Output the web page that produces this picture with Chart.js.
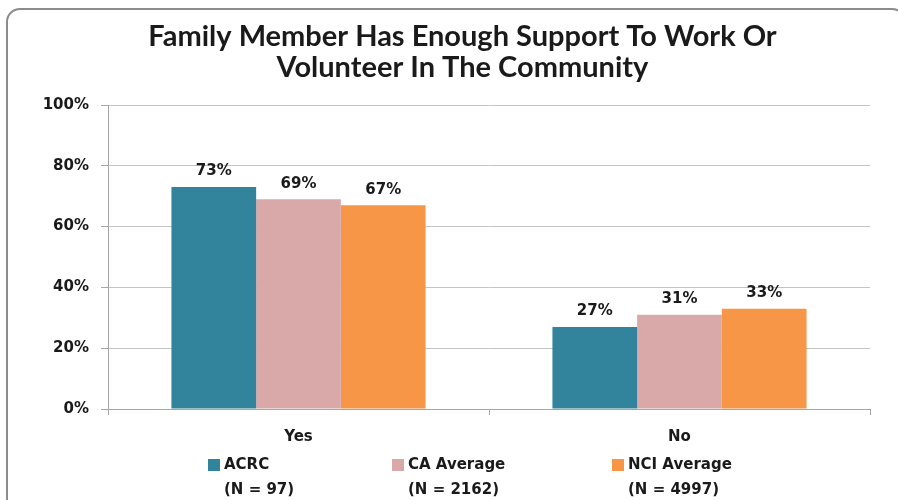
<!DOCTYPE html>
<html>
<head>
<meta charset="utf-8">
<script src="https://cdn.jsdelivr.net/npm/chart.js@4.4.1/dist/chart.umd.min.js"></script>
<style>
  html, body { margin: 0; padding: 0; background: #fff; }
  #wrap { position: relative; width: 898px; height: 500px; overflow: hidden; }
  #frame {
    position: absolute; left: 6px; top: 8px; width: 900px; height: 520px;
    border: 2px solid #8c8c8c; border-radius: 14px; box-sizing: border-box;
  }
  canvas { position: absolute; left: 0; top: 0; }
</style>
</head>
<body>
<div id="wrap">
  <div id="frame"></div>
  <canvas id="chart" width="898" height="500"></canvas>
</div>
<script>
const categories = ['Yes', 'No'];
const seriesNames = [['ACRC', '(N = 97)'], ['CA Average', '(N = 2162)'], ['NCI Average', '(N = 4997)']];
const acrcValues = [73, 27];
const caValues = [69, 31];
const nciValues = [67, 33];
const yTicks = [0, 20, 40, 60, 80, 100];
const seriesColors = ['#31849b', '#d9a8a8', '#f79646'];
const titleLines = ['Family Member Has Enough Support To Work Or', 'Volunteer In The Community'];

// title is centred a bit right of the canvas middle, as in the original
const topTitle = {
  id: 'topTitle',
  afterDraw(chart) {
    const ctx = chart.ctx;
    ctx.save();
    ctx.font = 'bold 29px Lato';
    ctx.fillStyle = '#1a1a1a';
    ctx.textAlign = 'center';
    ctx.textBaseline = 'middle';
    const cx = chart.width * 0.515;
    titleLines.forEach((line, i) => ctx.fillText(line, cx, 37 + i * 31));
    ctx.restore();
  }
};

// value labels over bars
const barLabels = {
  id: 'barLabels',
  afterDatasetsDraw(chart) {
    const ctx = chart.ctx;
    ctx.save();
    ctx.font = 'bold 15px "DejaVu Sans"';
    ctx.fillStyle = '#1a1a1a';
    ctx.textAlign = 'center';
    ctx.textBaseline = 'bottom';
    chart.data.datasets.forEach((ds, i) => {
      chart.getDatasetMeta(i).data.forEach((bar, j) => {
        ctx.fillText(ds.data[j] + '%', bar.x, bar.y - 8);
      });
    });
    ctx.restore();
  }
};

// two-line legend under the axis (item left edges as fractions of the width)
const legendSlots = [0.232, 0.437, 0.681];
const bottomLegend = {
  id: 'bottomLegend',
  afterDraw(chart) {
    const ctx = chart.ctx;
    ctx.save();
    ctx.font = 'bold 15px "DejaVu Sans"';
    const box = 12, boxGap = 4;
    const y1 = 465, y2 = 490;
    ctx.textBaseline = 'middle';
    ctx.textAlign = 'left';
    chart.data.datasets.forEach((ds, i) => {
      const x = Math.round(chart.width * legendSlots[i]);
      ctx.fillStyle = ds.backgroundColor;
      ctx.fillRect(x, y1 - 6, box, box);
      ctx.fillStyle = '#1a1a1a';
      ctx.fillText(ds.label[0], x + box + boxGap, y1);
      ctx.fillText(ds.label[1], x + box + boxGap, y2);
    });
    ctx.restore();
  }
};

const allValues = [acrcValues, caValues, nciValues];

new Chart(document.getElementById('chart'), {
  type: 'bar',
  data: {
    labels: categories,
    datasets: allValues.map((vals, i) => ({
      label: seriesNames[i],
      data: vals,
      backgroundColor: seriesColors[i],
      borderWidth: 0,
      categoryPercentage: 0.667,
      barPercentage: 1.0
    }))
  },
  options: {
    responsive: false,
    animation: false,
    layout: { padding: { left: 8, right: 28, top: 105, bottom: 41 } },
    plugins: {
      legend: { display: false },
      tooltip: { enabled: false },
      title: { display: false }
    },
    scales: {
      x: {
        grid: { display: true, drawOnChartArea: false, color: '#a6a6a6', tickLength: 6, offset: true },
        border: { color: '#a6a6a6', width: 1 },
        ticks: { color: '#1a1a1a', font: { family: 'DejaVu Sans', size: 15, weight: 'bold' }, padding: 13 }
      },
      y: {
        min: 0,
        max: 100,
        afterFit(scale) { scale.width = 100; },
        afterBuildTicks(scale) { scale.ticks = yTicks.map(v => ({ value: v })); },
        grid: { color: '#c4c4c4', tickLength: 7, tickColor: '#a6a6a6' },
        border: { color: '#a6a6a6', width: 1 },
        ticks: {
          color: '#1a1a1a',
          font: { family: 'DejaVu Sans', size: 15, weight: 'bold' },
          padding: 12,
          callback: v => v + '%'
        }
      }
    }
  },
  plugins: [topTitle, barLabels, bottomLegend]
});
</script>
</body>
</html>
